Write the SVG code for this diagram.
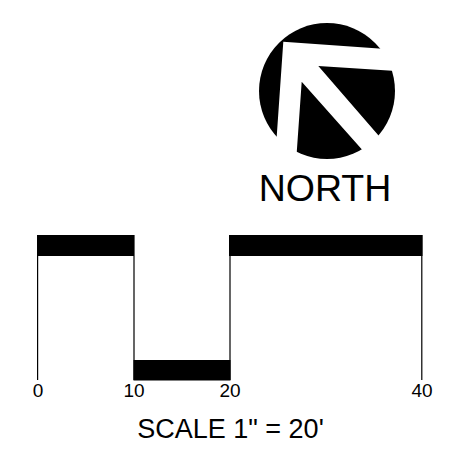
<svg xmlns="http://www.w3.org/2000/svg" width="457" height="466" viewBox="0 0 457 466">
<style>
text{font-family:"Liberation Sans",Arial,sans-serif;fill:#000}
.n{font-size:19px;text-anchor:middle}
.t{stroke:#000;stroke-width:1.2;fill:none}
</style>
<rect width="457" height="466" fill="#fff"/>
<g id="north-arrow">
<circle cx="327" cy="91" r="68" fill="#000"/>
<polygon fill="#fff" points="283.3,41.7 400,50 400,71.3 318.3,66 378.3,135.3 385,150 361.7,149.3 301.7,81.7 296.7,152.7 296,165 270,165 276.7,136.7"/>
<text x="325" y="201" font-size="37.500" text-anchor="middle">NORTH</text>
</g>
<g id="scale-bar">
<rect x="37" y="235" width="97" height="21"/>
<rect x="133.500" y="360" width="97" height="20.500"/>
<rect x="229" y="235" width="193.500" height="21"/>
<path class="t" d="M37.600 235V380M134 235V380M230 235V380M421.800 235V380"/>
<text class="n" x="38" y="397">0</text>
<text class="n" x="134" y="397">10</text>
<text class="n" x="230" y="397">20</text>
<text class="n" x="422" y="397">40</text>
<text x="230.500" y="438" font-size="27" text-anchor="middle">SCALE 1" = 20'</text>
</g>
</svg>
